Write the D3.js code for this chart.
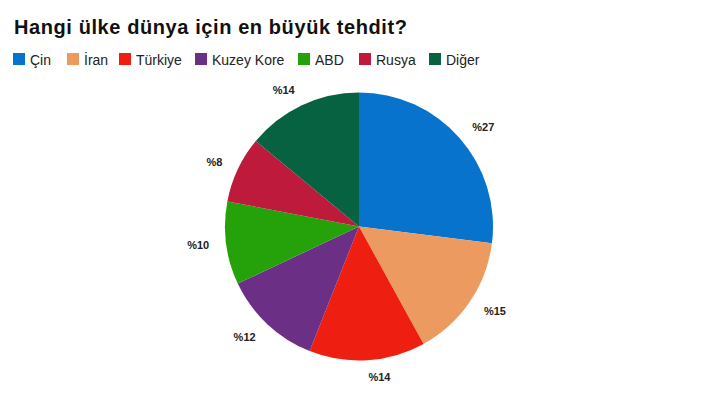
<!DOCTYPE html>
<html>
<head>
<meta charset="utf-8">
<script src="https://cdn.jsdelivr.net/npm/d3@7"></script>
<style>
  html, body { margin: 0; padding: 0; background: #fff; }
  svg { display: block; }
  text { font-family: "Liberation Sans", Arial, Helvetica, sans-serif; }
</style>
</head>
<body>
<svg id="chart" width="711" height="400"></svg>
<script>
const title = "Hangi ülke dünya için en büyük tehdit?";
const categories = ["Çin", "İran", "Türkiye", "Kuzey Kore", "ABD", "Rusya", "Diğer"];
const values = [27, 15, 14, 12, 10, 8, 14];
const colors = ["#0873cc", "#ec9a60", "#ee1f10", "#6c2f86", "#25a20a", "#be1a3c", "#066241"];

const svg = d3.select("#chart");
const W = 711, H = 400;
svg.append("rect").attr("width", W).attr("height", H).attr("fill", "#fff");

// Title
const t = svg.append("text")
  .attr("x", 14).attr("y", 33.5)
  .attr("font-size", 20).attr("font-weight", "bold").attr("fill", "#111")
  .text(title);
t.attr("textLength", 393).attr("lengthAdjust", "spacing");

// Legend
const legendX = [13, 67, 119, 195, 298, 359, 429];
const legend = svg.append("g");
categories.forEach((c, i) => {
  const g = legend.append("g").attr("transform", `translate(${legendX[i]},53)`);
  g.append("rect").attr("width", 12).attr("height", 12).attr("fill", colors[i]);
  g.append("text").attr("x", 17).attr("y", 11.5)
    .attr("font-size", 14).attr("fill", "#222").text(c);
});

// Pie
const cx = 359, cy = 226.5, r = 134, labelR = 151;
const pie = d3.pie().sort(null).value(d => d)(values);
const arc = d3.arc().innerRadius(0).outerRadius(r);
const color = d3.scaleOrdinal().domain(categories).range(colors);
const total = d3.sum(values);

const gp = svg.append("g").attr("transform", `translate(${cx},${cy})`);
gp.selectAll("path").data(pie).enter().append("path")
  .attr("d", arc)
  .attr("fill", (d, i) => color(categories[i]));

gp.selectAll("text.lbl").data(pie).enter().append("text")
  .attr("class", "lbl")
  .each(function(d) {
    const a = (d.startAngle + d.endAngle) / 2;
    const x = labelR * Math.sin(a);
    const y = -labelR * Math.cos(a);
    d3.select(this)
      .attr("x", x).attr("y", y)
      .attr("text-anchor", Math.sin(a) >= 0 ? "start" : "end")
      .attr("dy", "0.36em");
  })
  .attr("font-size", 11).attr("font-weight", "bold").attr("fill", "#222")
  .text(d => "%" + Math.round(d.value / total * 100));
</script>
</body>
</html>
